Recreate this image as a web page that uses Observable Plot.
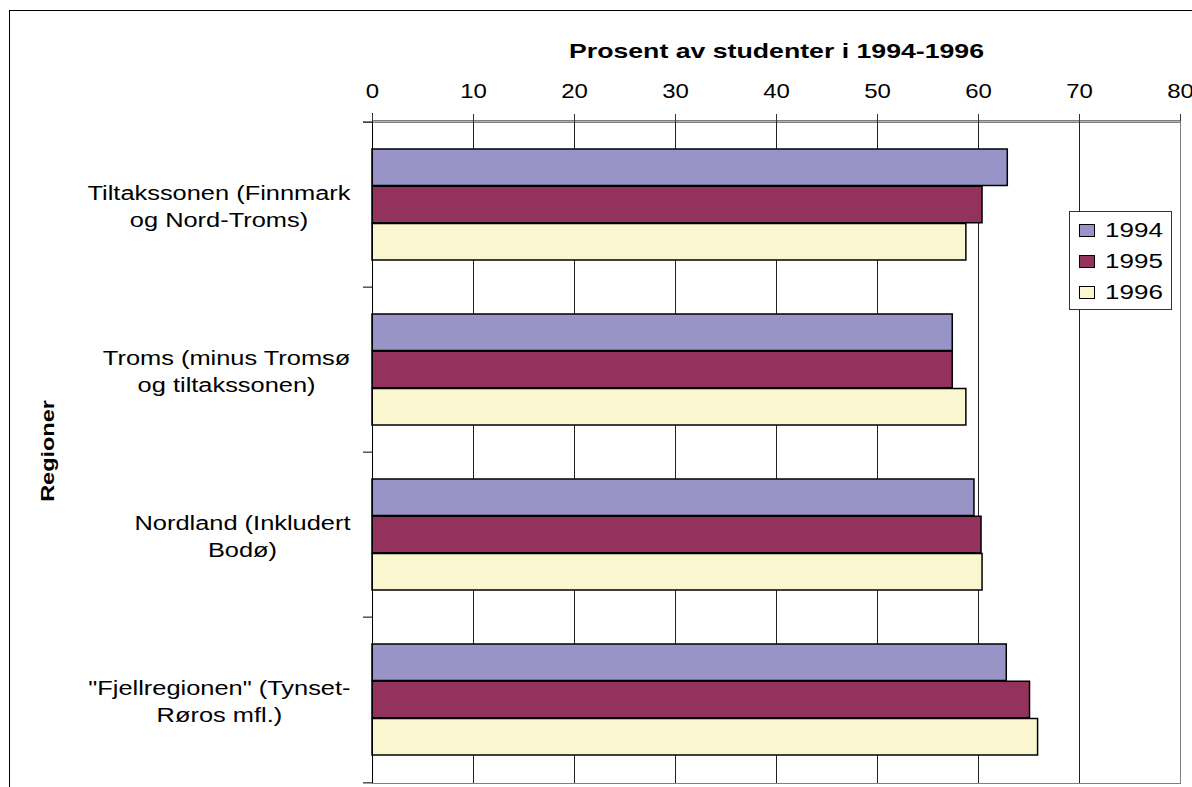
<!DOCTYPE html>
<html>
<head>
<meta charset="utf-8">
<script src="https://cdn.jsdelivr.net/npm/d3@7"></script>
<script src="https://cdn.jsdelivr.net/npm/@observablehq/plot@0.6"></script>
<style>
  html, body { margin: 0; padding: 0; background: #fff; overflow: hidden; }
  body { width: 1192px; height: 787px; position: relative; font-family: "Liberation Sans", Arial, sans-serif; }
  #border { position: absolute; left: 9px; top: 10px; width: 1300px; height: 900px; border: 1px solid #000; box-sizing: border-box; }
  #chart { position: absolute; left: 0; top: 0; }
  #legend { position: absolute; left: 1069px; top: 211px; width: 103px; height: 99px; box-sizing: border-box;
            border: 1px solid #333; background: #fff; padding-top: 3px; }
  .item { height: 31px; display: flex; align-items: center; }
  .sw { width: 14px; height: 11px; border: 1px solid #000; margin-left: 9px; margin-right: 10px; }
  .lab { font-size: 20px; display: inline-block; transform: scaleX(1.3); transform-origin: left center; color: #000; }
</style>
</head>
<body>
<div id="border"></div>
<div id="chart"></div>
<div id="legend"></div>
<script>
// ---- data ----
const regions = [
  "Tiltakssonen (Finnmark\nog Nord-Troms)",
  "Troms (minus Tromsø\nog tiltakssonen)",
  "Nordland (Inkludert\nBodø)",
  "\"Fjellregionen\" (Tynset-\nRøros mfl.)"
];
const years = ["1994", "1995", "1996"];
const values1994 = [62.9, 57.45, 59.6, 62.8];
const values1995 = [60.4, 57.45, 60.3, 65.1];
const values1996 = [58.8, 58.8, 60.4, 65.9];
const xTicks = [0, 10, 20, 30, 40, 50, 60, 70, 80];
const colors = ["#9894c8", "#94325e", "#faf6d0"];
const xTitle = "Prosent av studenter i 1994-1996";
const yTitle = "Regioner";

const series = [values1994, values1995, values1996];
const rows = regions.flatMap((r, i) => years.map((yr, k) => ({region: r, year: yr, value: series[k][i]})));

// ---- layout ----
const W = 1192, H = 787, mt = 120, mb = 4, ml = 372, mr = 12;
const bw = (H - mt - mb) / regions.length;
const barPad = 27;
const barH = (bw - 2 * barPad) / years.length;
const FONT = "'Liberation Sans', Arial, sans-serif";
const SX = 1.27;
const SX_TICK = 1.2;

// measure label widths
const ctx = document.createElement("canvas").getContext("2d");
ctx.font = "20px " + FONT;
const labelWidth = (s) => Math.max(...s.split("\n").map(l => ctx.measureText(l).width)) * SX;

const marks = [];
// gridlines
marks.push(Plot.ruleX(xTicks.slice(1, -1), {x: d => d, stroke: "#222", strokeWidth: 1}));
// frame
marks.push(Plot.frame({stroke: "#808080"}));
// bars
years.forEach((yr, k) => {
  marks.push(Plot.barX(rows.filter(d => d.year === yr), {
    x: "value", y: "region", fill: colors[k], stroke: "#000", strokeWidth: 1.5,
    insetTop: barPad + k * barH, insetBottom: bw - barPad - (k + 1) * barH
  }));
});
// left axis line
marks.push(Plot.ruleX([0], {x: d => d, stroke: "#000", insetTop: -7}));
// left boundary ticks
marks.push(Plot.ruleY(regions, {y: d => d, x1: 0, x2: 0, insetLeft: -9, dy: -bw / 2, stroke: "#000"}));
marks.push(Plot.ruleY([regions[regions.length - 1]], {y: d => d, x1: 0, x2: 0, insetLeft: -9, dy: bw / 2, stroke: "#000"}));
// top axis line
marks.push(Plot.ruleY([regions[0]], {y: d => d, x1: 0, x2: 80, insetLeft: -9, dy: -bw / 2, stroke: "#333"}));
// top axis
marks.push(Plot.axisX(xTicks, {anchor: "top", tickSize: 7, tickPadding: 16, fontSize: 20, label: null, stroke: "#333"}));
// title
marks.push(Plot.text([xTitle], {frameAnchor: "top", lineAnchor: "bottom", dy: -62.5, fontWeight: "bold", fontSize: 21, fill: "#000"}));
// y title
marks.push(Plot.text([yTitle], {frameAnchor: "left", rotate: -90, lineAnchor: "bottom", textAnchor: "middle", dx: 53 - ml, dy: -1, fontWeight: "bold", fontSize: 18.5, fill: "#000"}));
// category labels
regions.forEach(r => {
  marks.push(Plot.text([r], {y: d => d, text: d => d, frameAnchor: "left", textAnchor: "middle", lineAnchor: "middle",
    lineHeight: 1.335, fontSize: 20, fill: "#000", dx: -(22 + labelWidth(r) / 2)}));
});

const chart = Plot.plot({
  width: W, height: H,
  marginTop: mt, marginBottom: mb, marginLeft: ml, marginRight: mr,
  style: {background: "transparent", fontFamily: FONT, overflow: "visible"},
  x: {domain: [0, 80]},
  y: {domain: regions, padding: 0, axis: null},
  marks
});
chart.querySelectorAll("text").forEach(t => {
  const tr = t.getAttribute("transform");
  const isTick = !!t.closest('[aria-label="x-axis tick label"]');
  const s = isTick ? SX_TICK : SX;
  if (tr) t.setAttribute("transform", tr + ` scale(${s},1)`);
});
document.getElementById("chart").appendChild(chart);

// legend
const lg = document.getElementById("legend");
years.forEach((yr, k) => {
  const it = document.createElement("div");
  it.className = "item";
  it.innerHTML = `<span class="sw" style="background:${colors[k]}"></span><span class="lab">${yr}</span>`;
  lg.appendChild(it);
});
</script>
</body>
</html>
